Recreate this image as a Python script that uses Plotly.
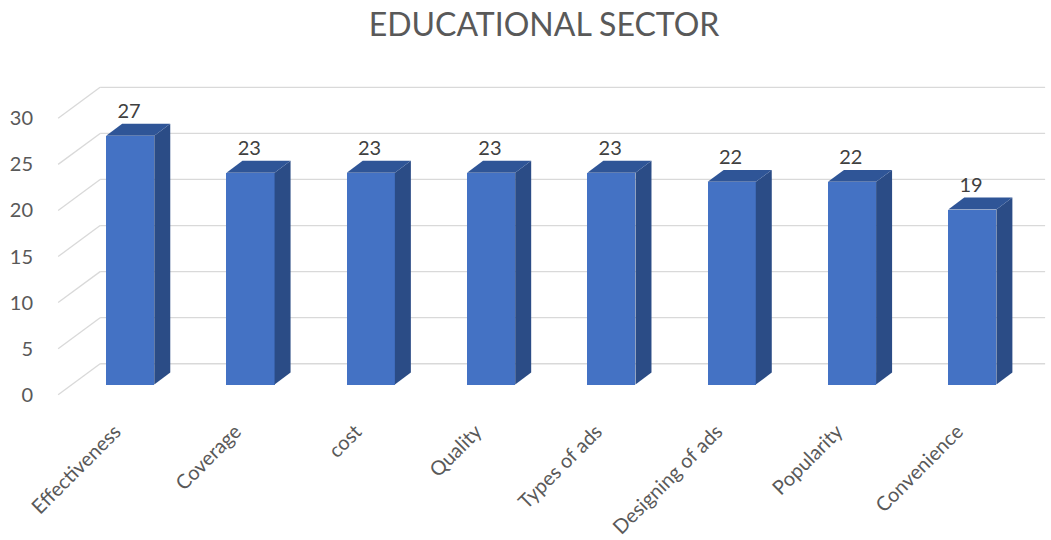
import plotly.graph_objects as go

# ---- data ----
categories = ["Effectiveness", "Coverage", "cost", "Quality", "Types of ads",
              "Designing of ads", "Popularity", "Convenience"]
values = [27, 23, 23, 23, 23, 22, 22, 19]
y_ticks = [0, 5, 10, 15, 20, 25, 30]
title_text = "EDUCATIONAL SECTOR"

# ---- style / pseudo-3D geometry (axis units) ----
FRONT = "#4472C4"
TOP = "#2F5597"
SIDE = "#2B4C86"
GRID = "#D9D9D9"
TXT = "#595959"
FONT = "Lato"

BAR_W = 0.4          # bar front width
BAR_SHIFT = 0.125    # bar front shift from front plane (x)
BAR_BASE = 1.1       # bar front base lift (y)
BAR_DX, BAR_DY = 0.133, 1.3   # bar depth
WALL_X0 = -0.474     # front-left of side wall
WALL_DX, WALL_DY = 0.349, 3.36
WALL_RIGHT = 7.73

fig = go.Figure()

# gridlines: side-wall diagonals + back-wall horizontals (below the bars)
for v in y_ticks:
    fig.add_shape(type="line", xref="x", yref="y", layer="below",
                  x0=WALL_X0, y0=v, x1=WALL_X0 + WALL_DX, y1=v + WALL_DY,
                  line=dict(color=GRID, width=1.3))
    fig.add_shape(type="line", xref="x", yref="y", layer="below",
                  x0=WALL_X0 + WALL_DX, y0=v + WALL_DY, x1=WALL_RIGHT, y1=v + WALL_DY,
                  line=dict(color=GRID, width=1.3))

# bar front faces
xs = [i + BAR_SHIFT for i in range(len(values))]
fig.add_trace(go.Bar(x=xs, y=values, base=[BAR_BASE] * len(values), width=BAR_W,
                     marker=dict(color=FRONT, line=dict(width=0)),
                     hoverinfo="skip", showlegend=False))

# side and top faces
for i, v in enumerate(values):
    xl = xs[i] - BAR_W / 2
    xr = xs[i] + BAR_W / 2
    yb = BAR_BASE
    yt = BAR_BASE + v
    fig.add_trace(go.Scatter(
        x=[xr, xr + BAR_DX, xr + BAR_DX, xr, xr],
        y=[yb, yb + BAR_DY, yt + BAR_DY, yt, yb],
        fill="toself", fillcolor=SIDE, mode="lines", line=dict(width=0, color=SIDE),
        hoverinfo="skip", showlegend=False))
    fig.add_trace(go.Scatter(
        x=[xl, xr, xr + BAR_DX, xl + BAR_DX, xl],
        y=[yt, yt, yt + BAR_DY, yt + BAR_DY, yt],
        fill="toself", fillcolor=TOP, mode="lines", line=dict(width=0, color=TOP),
        hoverinfo="skip", showlegend=False))

# data labels
fig.add_trace(go.Scatter(
    x=[x - 0.01 for x in xs], y=[v + BAR_BASE + BAR_DY + 1.15 for v in values],
    text=[str(v) for v in values], mode="text", textposition="middle center",
    textfont=dict(family=FONT, size=20, color="#404040"),
    hoverinfo="skip", showlegend=False))

fig.update_layout(
    width=1051, height=540,
    margin=dict(l=49, r=3, t=63, b=125),
    paper_bgcolor="white", plot_bgcolor="white",
    title=dict(text=title_text, x=0.5176, xanchor="center", y=0.9546, yanchor="middle",
               font=dict(family=FONT, size=32, color=TXT)),
    xaxis=dict(range=[-0.55, 7.754], tickvals=list(range(len(categories))),
               ticktext=categories, tickangle=-45, showgrid=False, zeroline=False,
               showline=False, ticks="", automargin=False,
               tickfont=dict(family=FONT, size=20, color=TXT)),
    yaxis=dict(range=[-2.2, 36], tickvals=y_ticks, showgrid=False, zeroline=False,
               showline=False, ticks="", ticklabelstandoff=15, automargin=False,
               tickfont=dict(family=FONT, size=20, color=TXT)),
    bargap=0,
)

# remove the page's default 8px body margin so the figure sits at the window corner
fig.write_html("out.html", config={"displayModeBar": False},
               post_script="document.body.style.margin='0px';")
